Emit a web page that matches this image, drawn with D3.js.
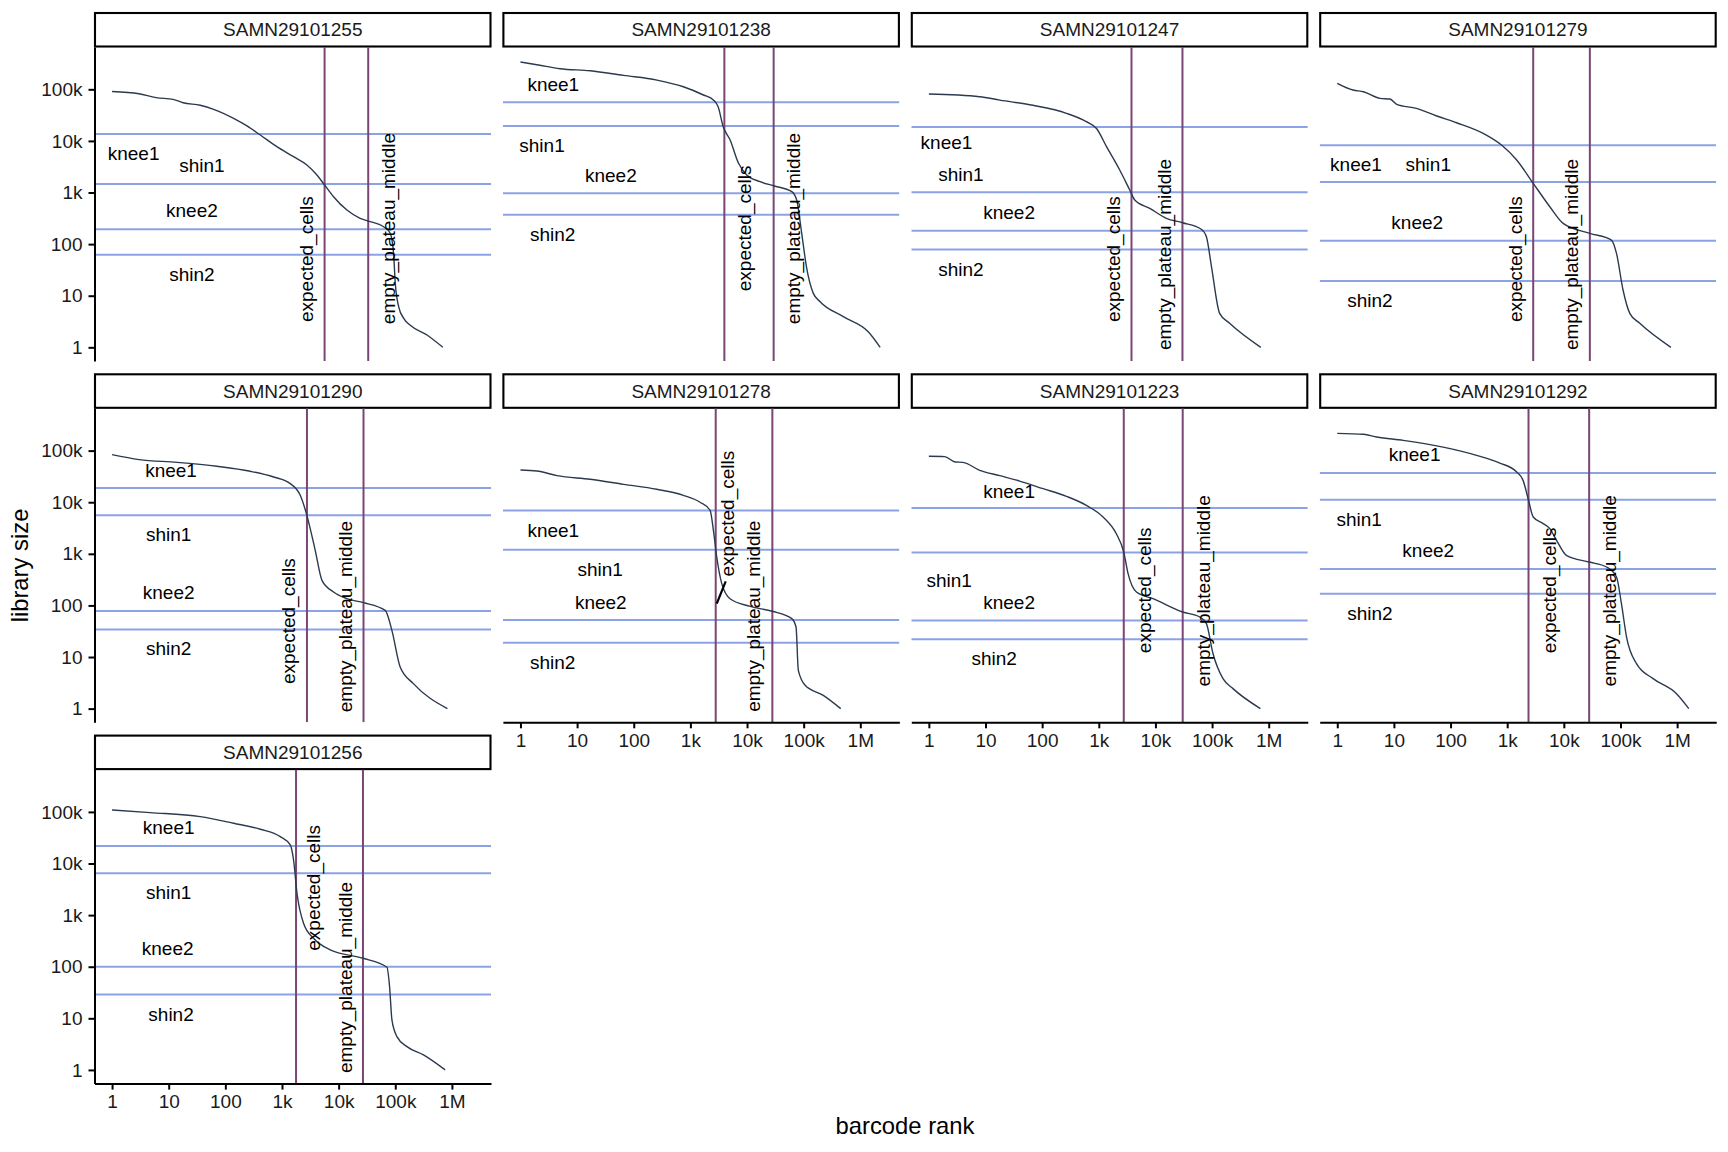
<!DOCTYPE html>
<html><head><meta charset="utf-8">
<script src="https://cdn.jsdelivr.net/npm/d3@7"></script>
<style>
body{margin:0;background:#fff;}
svg{display:block;}
text{font-family:"Liberation Sans",Arial,Helvetica,sans-serif;}
</style>
</head><body>
<svg id="chart" width="1728" height="1152"></svg>
<script>
// ---------------- DATA ----------------
const samples = ["SAMN29101255","SAMN29101238","SAMN29101247","SAMN29101279",
                 "SAMN29101290","SAMN29101278","SAMN29101223","SAMN29101292","SAMN29101256"];

// barcode rank curves: [rank, library size]
const curve_SAMN29101255 = [[1,91000],[3,82000],[6,69000],[12,64000],[18,55000],[36,49000],[62,41000],[140,27400],[241,19500],[414,13000],[813,7730],[1600,4940],[2750,3410],[4140,2180],[5650,1400],[8130,830],[14000,458],[24000,316],[33300,280],[62100,217],[81300,162],[93300,66],[100000,17.4],[115000,6.1],[141000,3.65],[182000,2.7],[363000,1.73],[692000,1]];
const curve_SAMN29101238 = [[1,339000],[2.2,292000],[5,251000],[17,229000],[66,186000],[257,151000],[752,112000],[1700,77600],[2570,61700],[3090,45700],[3800,18800],[5010,10500],[7080,3680],[9890,2190],[17000,1620],[29500,1350],[61700,1040],[75300,716],[92300,162],[112000,36.3],[148000,11.1],[195000,7.66],[501000,3.92],[1380000,2.0],[2240000,1]];
const curve_SAMN29101247 = [[1,81100],[7.9,71900],[17.9,61700],[69,49000],[269,34300],[603,23600],[912,17400],[1370,7730],[2340,2730],[3520,1120],[4320,716],[7940,494],[15600,316],[30000,260],[64600,194],[79400,139],[97700,36.3],[136000,4.56],[204000,2.92],[724000,1]];
const curve_SAMN29101279 = [[1,131000],[1.9,96800],[2.9,89900],[5.7,66800],[8.5,64900],[11.2,51200],[25,42700],[57,30400],[128,22500],[377,14000],[794,8320],[1470,4270],[2880,1510],[5660,531],[9730,253],[28800,162],[69200,120],[85100,66],[111000,12.9],[146000,4.56],[219000,2.92],[776000,1]];
const curve_SAMN29101290 = [[1,83600],[3,67000],[14,59300],[71,49700],[275,39800],[711,30800],[1400,22900],[2100,13600],[2750,5570],[3860,1170],[5080,306],[8130,182],[14000,135],[27500,113],[66500,80],[87100,32.9],[122000,6.4],[209000,3.05],[832000,1]];
const curve_SAMN29101278 = [[1,42100],[1.95,40300],[4.4,32700],[17,27800],[66,22200],[255,17800],[752,13600],[1480,10000],[2230,6970],[2550,2850],[2920,867],[3580,264],[5010,135],[11300,96],[28000,77],[61700,55.5],[73300,38.2],[80500,5.5],[106000,2.83],[222000,1.81],[451000,1]];
const curve_SAMN29101223 = [[1,77600],[1.9,76600],[2.9,60300],[4.0,59300],[7.9,41500],[17.9,32700],[40,25700],[104,18300],[269,13000],[603,8710],[1190,5180],[2040,2450],[2760,1080],[3290,413],[4620,182],[9080,135],[30300,74.5],[60500,59.6],[79400,44.4],[104000,11.6],[156000,3.81],[234000,2.44],[713000,1]];
const curve_SAMN29101292 = [[1,216000],[2.9,207000],[5.0,184000],[14.6,158000],[74,117000],[288,81100],[741,57500],[1470,38500],[1910,26500],[2380,10900],[2880,5180],[4320,3850],[5660,3080],[7430,1830],[11100,935],[28000,693],[56800,555],[85100,355],[104000,108],[128000,24.4],[192000,7.45],[377000,3.81],[975000,1.95],[1610000,1]];
const curve_SAMN29101256 = [[1,109000],[4.7,97000],[36,81100],[140,60300],[414,46200],[933,33300],[1400,22900],[1600,11700],[1840,2650],[2400,697],[3610,356],[7110,212],[26900,146],[71300,97.7],[79300,41.2],[87300,9.3],[107000,4.43],[161000,2.83],[315000,1.95],[760000,1]];
const curves = [curve_SAMN29101255, curve_SAMN29101238, curve_SAMN29101247, curve_SAMN29101279,
                curve_SAMN29101290, curve_SAMN29101278, curve_SAMN29101223, curve_SAMN29101292, curve_SAMN29101256];

// horizontal threshold lines (library size), per sample
const hlineValues = [
  [13600,1460,194,62],
  [56000,19400,965,371],
  [18600,1010,182,79],
  [8200,1600,116,19.3],
  [18800,5570,78,34],
  [6900,1205,52,19],
  [7700,1055,51,22],
  [36800,11200,507,169],
  [21900,6500,100,28.8]
];
// vertical lines (barcode rank), per sample
const expectedCells      = [5650, 3980, 3780, 2880, 2760, 2800, 2760, 2380, 1770];
const emptyPlateauMiddle = [33300, 29500, 30000, 28800, 27500, 28000, 30300, 28000, 26900];

// text annotations: labels and their (rank, size) anchors per sample
const labelNames = ["knee1","shin1","knee2","shin2","expected_cells","empty_plateau_middle"];
const labelRotated = [false,false,false,false,true,true];
const labelRank = [
  [2.4, 38.7, 25.7, 25.7, 2690, 75900],
  [3.8, 2.4, 39.4, 3.7, 8900, 66000],
  [2.05, 3.67, 26.1, 3.67, 1780, 14600],
  [2.14, 40.4, 25.8, 3.78, 1370, 13700],
  [11, 10, 10, 10, 1310, 13100],
  [3.8, 25.5, 26.2, 3.7, 4500, 12900],
  [26.1, 2.28, 26.1, 14.2, 6460, 69200],
  [23.2, 2.44, 40.4, 3.78, 5660, 64900],
  [10, 10, 9.6, 11, 3520, 13100]
];
const labelSize = [
  [5750, 3310, 444, 26.3, 51, 200],
  [126000, 8300, 2190, 155, 202, 200],
  [9330, 2290, 413, 32.9, 51, 63],
  [3560, 3560, 260, 8.26, 51, 63],
  [41500, 2390, 177, 14.6, 49.5, 60.7],
  [2850, 500, 116, 7.8, 6010, 61.7],
  [16500, 306, 113, 9.3, 196, 192],
  [83600, 4670, 1170, 69.3, 196, 192],
  [49700, 2780, 228, 12.2, 3370, 62]
];
// repel connector segment (sample index, from [rank,size], to [rank,size])
const segSample = [5];
const segFrom = [[2920, 108]];
const segTo   = [[4200, 293]];

const yTicks = [1,10,100,1e3,1e4,1e5];
const yTickLabels = ["1","10","100","1k","10k","100k"];
const xTicks = [1,10,100,1e3,1e4,1e5,1e6];
const xTickLabels = ["1","10","100","1k","10k","100k","1M"];

// ---------------- LAYOUT ----------------
const svg = d3.select("#chart");
const ncol = 4, colLeft0 = 94.5, colPitch = 408.4, pw = 396.5;
const rowTop0 = 13, rowPitch = 361.3, stripH = 33.5, ph = 314;
const fontSmall = 19, fontTitle = 23.8;
const colH = "#8ca2e6", colV = "#7a4676", colCurve = "#2b3a4e";

const x = d3.scaleLog().domain([Math.pow(10,-0.31), Math.pow(10,6.69)]).range([0, pw]);
const y = d3.scaleLog().domain([Math.pow(10,-0.265), Math.pow(10,5.82)]).range([ph, 0]);
const line = d3.line().x(d => x(d[0])).y(d => y(d[1])).curve(d3.curveMonotoneX);

const defs = svg.append("defs");
defs.append("clipPath").attr("id","pclip").append("rect")
  .attr("x",0).attr("y",0).attr("width",pw).attr("height",ph);

samples.forEach((s, i) => {
  const r = Math.floor(i / ncol), c = i % ncol;
  const left = colLeft0 + c * colPitch;
  const stripTop = rowTop0 + r * rowPitch;
  const top = stripTop + stripH + 0.5;

  // strip
  svg.append("rect").attr("x", left + 0.5).attr("y", stripTop)
    .attr("width", pw - 1).attr("height", stripH)
    .attr("fill", "#fff").attr("stroke", "#000").attr("stroke-width", 2.1);
  svg.append("text").attr("x", left + pw / 2).attr("y", stripTop + stripH / 2)
    .attr("dy", "0.35em").attr("text-anchor", "middle")
    .attr("font-size", fontSmall).attr("fill", "#1a1a1a").text(s);

  const g = svg.append("g").attr("transform", `translate(${left},${top})`);
  const content = g.append("g").attr("clip-path", "url(#pclip)");

  hlineValues[i].forEach(v => {
    content.append("line").attr("x1", 0).attr("x2", pw)
      .attr("y1", y(v)).attr("y2", y(v))
      .attr("stroke", colH).attr("stroke-width", 2);
  });
  [expectedCells[i], emptyPlateauMiddle[i]].forEach(v => {
    content.append("line").attr("x1", x(v)).attr("x2", x(v))
      .attr("y1", 0).attr("y2", ph)
      .attr("stroke", colV).attr("stroke-width", 2);
  });
  content.append("path").datum(curves[i]).attr("d", line)
    .attr("fill", "none").attr("stroke", colCurve).attr("stroke-width", 1.4);

  segSample.forEach((si, k) => {
    if (si !== i) return;
    content.append("line")
      .attr("x1", x(segFrom[k][0])).attr("y1", y(segFrom[k][1]))
      .attr("x2", x(segTo[k][0])).attr("y2", y(segTo[k][1]))
      .attr("stroke", "#000").attr("stroke-width", 2.2);
  });

  labelNames.forEach((name, k) => {
    const px = x(labelRank[i][k]), py = y(labelSize[i][k]);
    const t = g.append("text").attr("text-anchor", "middle").attr("dy", "0.35em")
      .attr("font-size", fontSmall).attr("fill", "#000").text(name);
    if (labelRotated[k]) t.attr("transform", `translate(${px},${py}) rotate(-90)`);
    else t.attr("x", px).attr("y", py);
  });

  // axes
  if (c === 0) {
    const ax = g.append("g").call(d3.axisLeft(y).tickValues(yTicks)
      .tickFormat((d, j) => yTickLabels[j]).tickSize(6).tickSizeOuter(0).tickPadding(6));
    ax.select(".domain").attr("stroke", "#000").attr("stroke-width", 2);
    ax.selectAll(".tick line").attr("stroke", "#000").attr("stroke-width", 2);
    ax.selectAll(".tick text").attr("font-size", fontSmall).attr("fill", "#1a1a1a")
      .attr("font-family", "Liberation Sans, Arial, sans-serif");
  }
  if (i + ncol >= samples.length) {
    const ax = g.append("g").attr("transform", `translate(0,${ph})`)
      .call(d3.axisBottom(x).tickValues(xTicks)
      .tickFormat((d, j) => xTickLabels[j]).tickSize(6).tickSizeOuter(0).tickPadding(5));
    ax.select(".domain").attr("stroke", "#000").attr("stroke-width", 2);
    ax.selectAll(".tick line").attr("stroke", "#000").attr("stroke-width", 2);
    ax.selectAll(".tick text").attr("font-size", fontSmall).attr("fill", "#1a1a1a")
      .attr("font-family", "Liberation Sans, Arial, sans-serif");
  }
});

// axis titles
svg.append("text").attr("transform", "translate(20,565.5) rotate(-90)")
  .attr("text-anchor", "middle").attr("dy", "0.35em")
  .attr("font-size", fontTitle).attr("fill", "#000").text("library size");
svg.append("text").attr("x", 905).attr("y", 1126)
  .attr("text-anchor", "middle").attr("dy", "0.35em")
  .attr("font-size", fontTitle).attr("fill", "#000").text("barcode rank");
</script>
</body></html>
